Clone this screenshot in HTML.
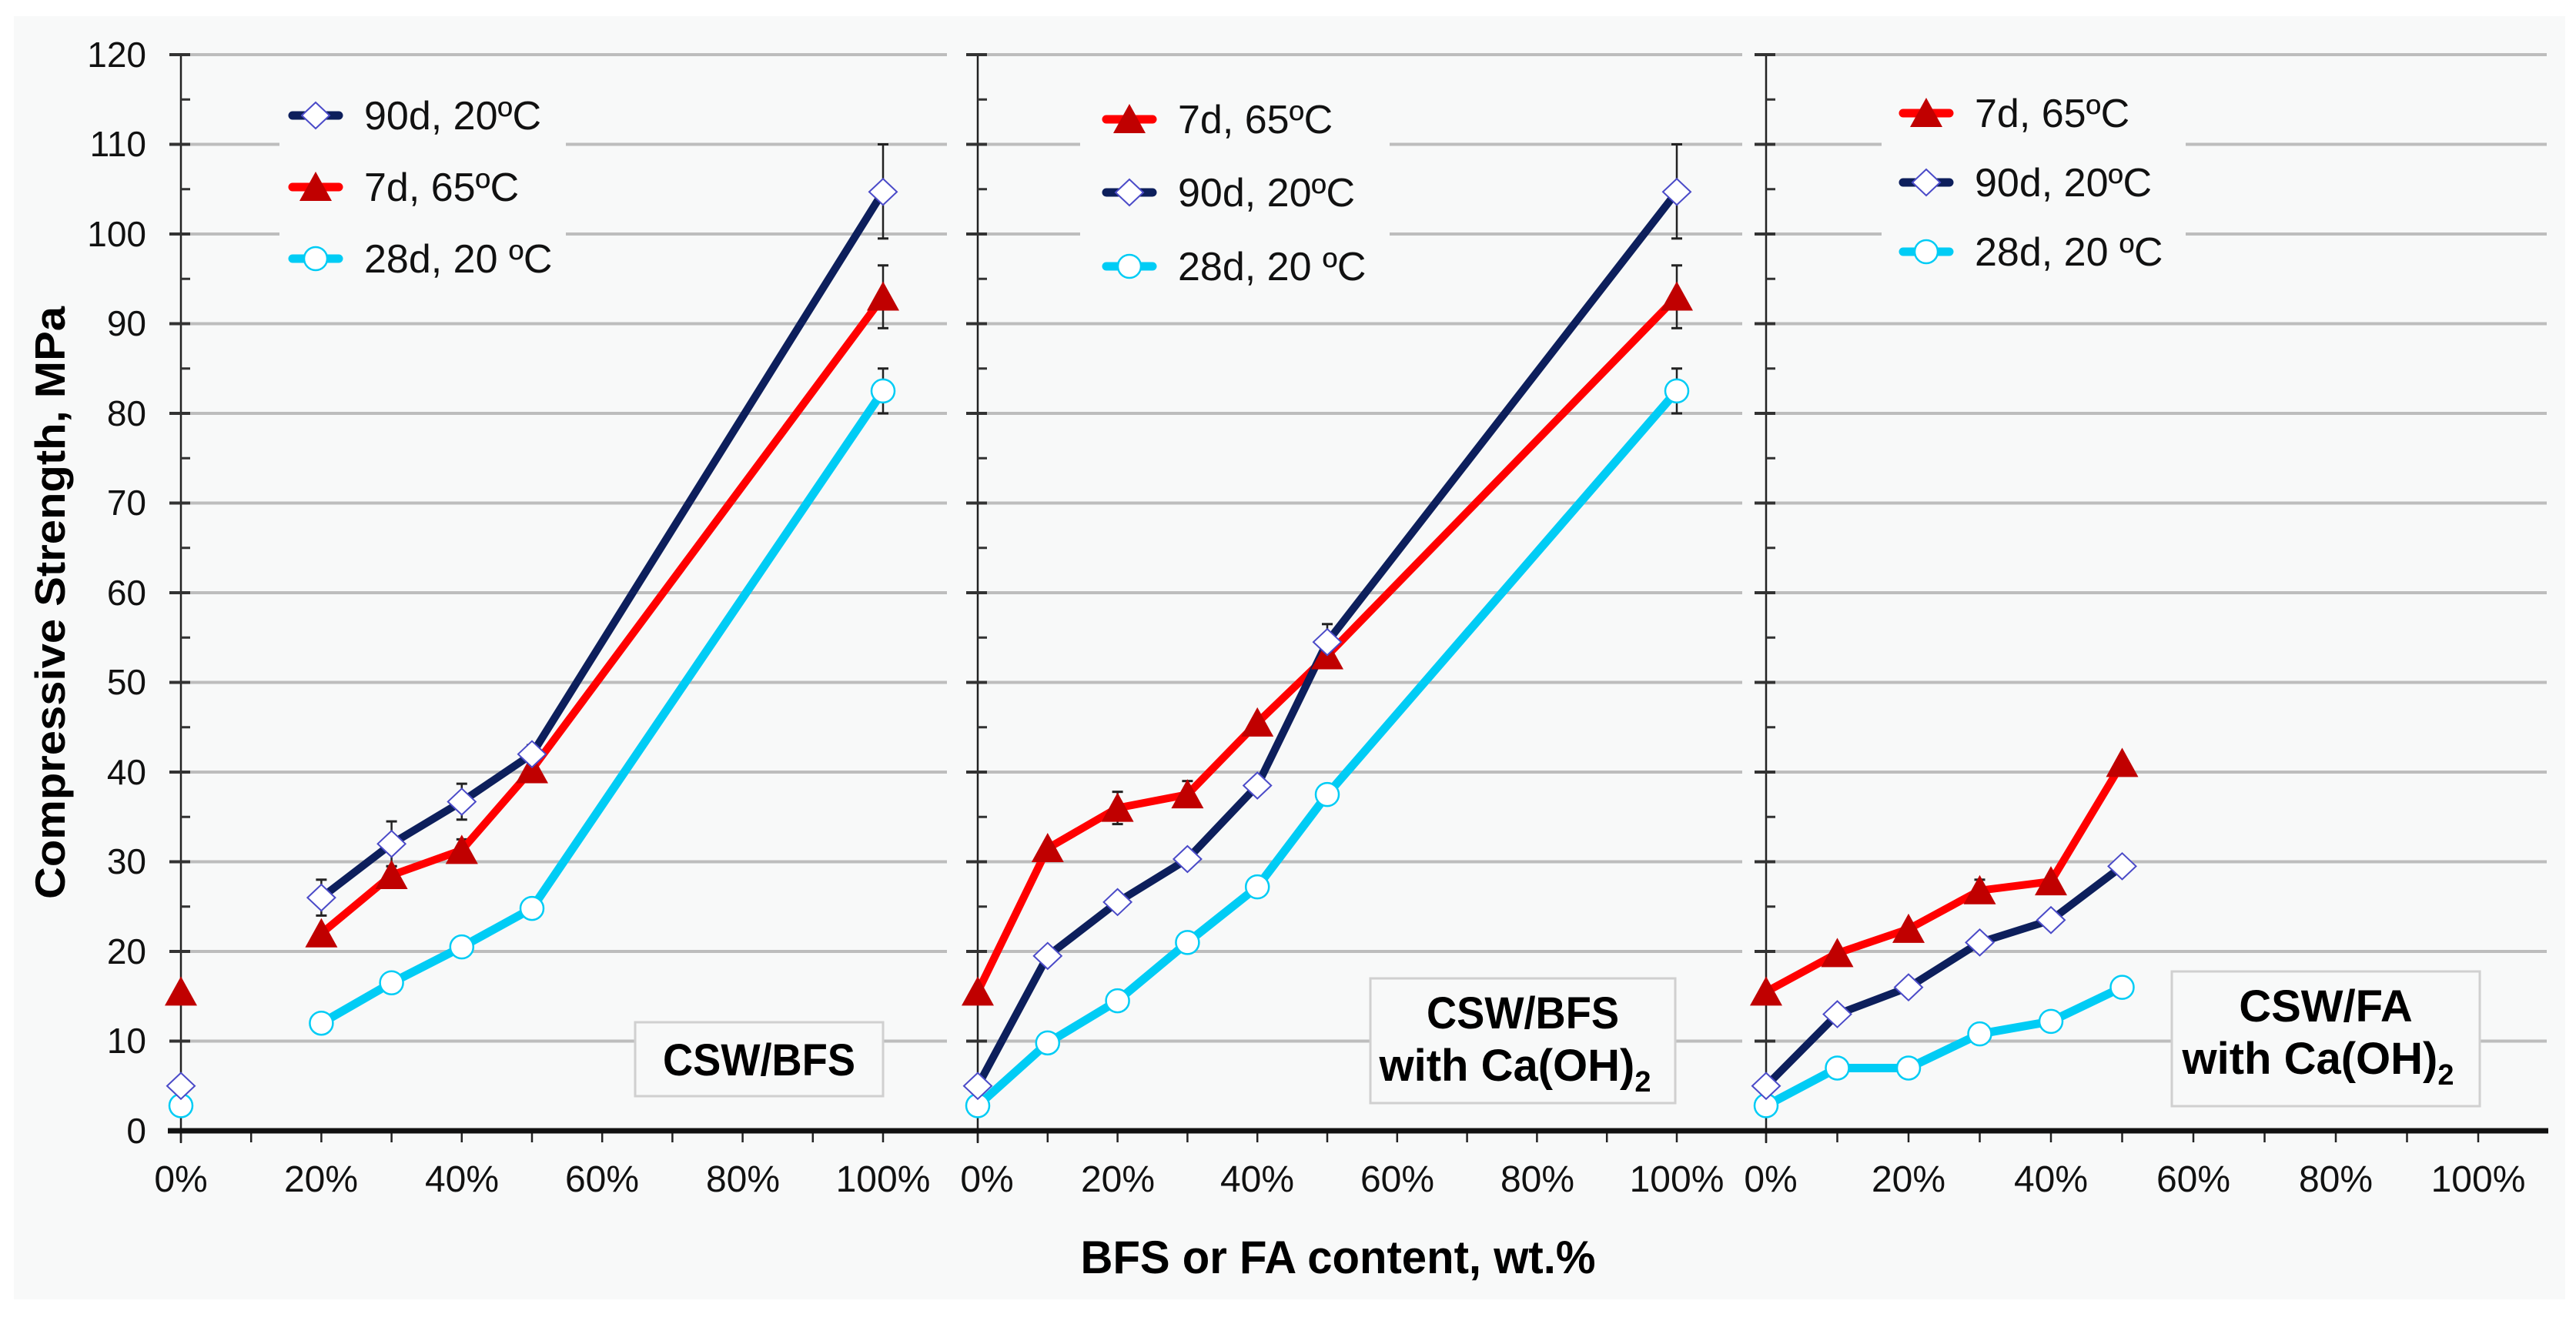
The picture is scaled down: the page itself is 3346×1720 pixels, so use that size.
<!DOCTYPE html>
<html><head><meta charset="utf-8"><style>
html,body{margin:0;padding:0;background:#fff;}
svg{display:block;font-family:"Liberation Sans",Arial,sans-serif;}
</style></head><body>
<svg id="s" width="3346" height="1720" viewBox="0 0 3346 1720" xmlns="http://www.w3.org/2000/svg">
<rect x="18" y="21" width="3314" height="1667" fill="#f8f9f9"/>
<g id="grid"></g>
<!-- legend backgrounds -->
<rect x="363" y="100" width="372" height="290" fill="#f8f9f9"/>
<rect x="1403" y="100" width="402" height="290" fill="#f8f9f9"/>
<rect x="2444" y="100" width="395" height="290" fill="#f8f9f9"/>
<g id="axes"></g>
<g id="series"></g>
<!-- y tick labels -->
<g font-size="46" text-anchor="end" fill="#111">
<text x="190" y="1485">0</text><text x="190" y="1368">10</text><text x="190" y="1252">20</text>
<text x="190" y="1135">30</text><text x="190" y="1019">40</text><text x="190" y="902">50</text>
<text x="190" y="786">60</text><text x="190" y="669">70</text><text x="190" y="553">80</text>
<text x="190" y="436">90</text><text x="190" y="320">100</text><text x="190" y="203">110</text>
<text x="190" y="87">120</text>
</g>
<text transform="translate(84,783) rotate(-90)" font-size="55" font-weight="bold" text-anchor="middle" textLength="770" lengthAdjust="spacingAndGlyphs">Compressive Strength, MPa</text>
<!-- x tick labels -->
<g font-size="48" text-anchor="middle" fill="#111">
<text x="235" y="1548">0%</text><text x="417" y="1548">20%</text><text x="600" y="1548">40%</text><text x="782" y="1548">60%</text><text x="965" y="1548">80%</text><text x="1147" y="1548">100%</text>
<text x="1282" y="1548">0%</text><text x="1452" y="1548">20%</text><text x="1633" y="1548">40%</text><text x="1815" y="1548">60%</text><text x="1997" y="1548">80%</text><text x="2178" y="1548">100%</text>
<text x="2300" y="1548">0%</text><text x="2479" y="1548">20%</text><text x="2664" y="1548">40%</text><text x="2849" y="1548">60%</text><text x="3034" y="1548">80%</text><text x="3219" y="1548">100%</text>
</g>
<text x="1738" y="1654" font-size="60" font-weight="bold" text-anchor="middle" textLength="669" lengthAdjust="spacingAndGlyphs">BFS or FA content, wt.%</text>
<!-- text boxes -->
<rect x="825" y="1328" width="322" height="96" fill="#f8f9f9" stroke="#d0d0d0" stroke-width="3"/>
<text x="986" y="1397" font-size="58" font-weight="bold" text-anchor="middle" textLength="250" lengthAdjust="spacingAndGlyphs">CSW/BFS</text>
<rect x="1780" y="1271" width="396" height="162" fill="#f8f9f9" stroke="#d0d0d0" stroke-width="3"/>
<text x="1978" y="1336" font-size="58" font-weight="bold" text-anchor="middle" textLength="250" lengthAdjust="spacingAndGlyphs">CSW/BFS</text>
<text x="1968" y="1404" font-size="58" font-weight="bold" text-anchor="middle">with Ca(OH)<tspan font-size="38" dy="14">2</tspan></text>
<rect x="2821" y="1262" width="400" height="175" fill="#f8f9f9" stroke="#d0d0d0" stroke-width="3"/>
<text x="3021" y="1327" font-size="58" font-weight="bold" text-anchor="middle">CSW/FA</text>
<text x="3011" y="1395" font-size="58" font-weight="bold" text-anchor="middle">with Ca(OH)<tspan font-size="38" dy="14">2</tspan></text>
<!-- legends -->
<g id="leg"></g>
<g font-size="52" fill="#111">
<text x="473" y="168">90d, 20ºC</text><text x="473" y="261">7d, 65ºC</text><text x="473" y="354">28d, 20 ºC</text>
<text x="1530" y="173">7d, 65ºC</text><text x="1530" y="268">90d, 20ºC</text><text x="1530" y="364">28d, 20 ºC</text>
<text x="2565" y="165">7d, 65ºC</text><text x="2565" y="255">90d, 20ºC</text><text x="2565" y="345">28d, 20 ºC</text>
</g>
<script>
(function(){
var NS="http://www.w3.org/2000/svg";
function el(p,t,a){var e=document.createElementNS(NS,t);for(var k in a)e.setAttribute(k,a[k]);document.getElementById(p).appendChild(e);return e;}
function Y(v){return 1469-11.65*v;}
var P=[{x0:235,x1:1147,g0:220,g1:1230},{x0:1270,x1:2178,g0:1255,g1:2263},{x0:2294,x1:3219,g0:2280,g1:3308}];
P.forEach(function(p){
 for(var v=10;v<=120;v+=10) el("grid","line",{x1:p.g0,x2:p.g1,y1:Y(v),y2:Y(v),stroke:"#bdbdbd","stroke-width":4});
 el("axes","line",{x1:p.x0,x2:p.x0,y1:Y(120),y2:1485,stroke:"#222","stroke-width":2.5});
 for(var v=0;v<=120;v+=5){ if(v%10==0) el("axes","line",{x1:p.x0-15,x2:p.x0+12,y1:Y(v),y2:Y(v),stroke:"#333","stroke-width":4});
  else el("axes","line",{x1:p.x0,x2:p.x0+12,y1:Y(v),y2:Y(v),stroke:"#333","stroke-width":3});}
 for(var i=0;i<=10;i++){var x=p.x0+(p.x1-p.x0)*i/10; el("axes","line",{x1:x,x2:x,y1:1469,y2:1484,stroke:"#222","stroke-width":2.5});}
});
el("axes","line",{x1:218,x2:3310,y1:1469,y2:1469,stroke:"#111","stroke-width":7});
var C={n:"#0d1f5c",r:"#ff0000",c:"#00ccf5"};
function mk(g,t,x,y){
 if(t=="d") el(g,"polygon",{points:(x-18)+","+y+" "+x+","+(y-17)+" "+(x+18)+","+y+" "+x+","+(y+17),fill:"#fff",stroke:"#4a4ac8","stroke-width":2});
 else if(t=="t") el(g,"polygon",{points:(x-21)+","+(y+18)+" "+x+","+(y-20)+" "+(x+21)+","+(y+18),fill:"#c00000"});
 else el(g,"ellipse",{cx:x,cy:y,rx:15,ry:15,fill:"#fff",stroke:"#00ccf5","stroke-width":2.5});
}
function eb(x,lo,hi){el("series","line",{x1:x,x2:x,y1:Y(lo),y2:Y(hi),stroke:"#222","stroke-width":2.5});
 [lo,hi].forEach(function(v){el("series","line",{x1:x-7,x2:x+7,y1:Y(v),y2:Y(v),stroke:"#222","stroke-width":3});});}
function ser(pi,xs,vs,col,t,sw,startLine){
 var p=P[pi],pts=[];
 xs.forEach(function(x,i){pts.push([p.x0+(p.x1-p.x0)*x/100,Y(vs[i])]);});
 var lp=pts.slice(startLine);
 el("series","polyline",{points:lp.map(function(a){return a.join(",")}).join(" "),fill:"none",stroke:col,"stroke-width":sw,"stroke-linejoin":"round"});
 return pts;
}
var all=[];
function ex(pi,x){return P[pi].x0+(P[pi].x1-P[pi].x0)*x/100;}
eb(ex(0,20),24,28);eb(ex(0,30),29.5,34.5);eb(ex(0,40),34.7,38.7);eb(ex(0,50),41,43);eb(ex(0,100),99.5,110);
eb(ex(0,30),27.5,29.5);eb(ex(0,40),30.5,32.5);eb(ex(0,100),89.5,96.5);eb(ex(0,100),80,85);
eb(ex(1,20),34.2,37.8);eb(ex(1,30),36.5,39);eb(ex(1,50),52.5,56.5);eb(ex(1,100),99.5,110);eb(ex(1,100),89.5,96.5);eb(ex(1,100),80,85);
eb(ex(2,30),25.5,28);
var x1=[0,20,30,40,50,100];
all.push([ser(0,x1,[2.8,12,16.5,20.5,24.8,82.5],C.c,"c",11,1),"c"]);
all.push([ser(0,x1,[15.5,22,28.5,31.3,40.3,93],C.r,"t",10,1),"t"]);
all.push([ser(0,x1,[5,26,32,36.7,42,104.7],C.n,"d",10,1),"d"]);
var x2=[0,10,20,30,40,50,100];
all.push([ser(1,x2,[2.8,9.8,14.5,21,27.2,37.5,82.5],C.c,"c",11,0),"c"]);
all.push([ser(1,x2,[15.5,31.5,36,37.5,45.5,53,93],C.r,"t",10,0),"t"]);
all.push([ser(1,x2,[5,19.5,25.5,30.3,38.5,54.5,104.7],C.n,"d",10,0),"d"]);
var x3=[0,10,20,30,40,50];
all.push([ser(2,x3,[2.8,7,7,10.8,12.2,16],C.c,"c",11,0),"c"]);
all.push([ser(2,x3,[15.5,19.8,22.5,26.8,27.8,41],C.r,"t",10,0),"t"]);
all.push([ser(2,x3,[5,13,16,21,23.5,29.5],C.n,"d",10,0),"d"]);
all.forEach(function(s){s[0].forEach(function(a){mk("series",s[1],a[0],a[1]);});});
function lg(x,y,col,t){el("leg","line",{x1:x-30,x2:x+30,y1:y,y2:y,stroke:col,"stroke-width":11,"stroke-linecap":"round"});mk("leg",t,x,y);}
lg(410,150,C.n,"d");lg(410,243,C.r,"t");lg(410,336,C.c,"c");
lg(1467,155,C.r,"t");lg(1467,250,C.n,"d");lg(1467,346,C.c,"c");
lg(2502,147,C.r,"t");lg(2502,237,C.n,"d");lg(2502,327,C.c,"c");
})();
</script>
</svg>
</body></html>
